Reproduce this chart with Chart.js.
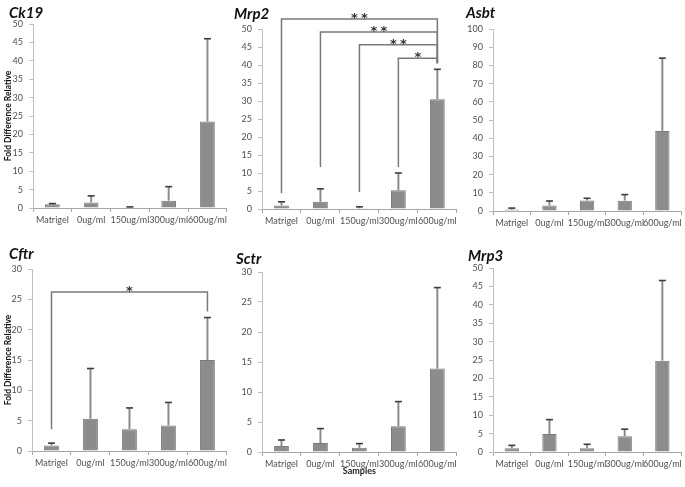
<!DOCTYPE html>
<html>
<head>
<meta charset="utf-8">
<script src="https://cdn.jsdelivr.net/npm/chart.js@4.4.1/dist/chart.umd.min.js"></script>
<style>
  body { margin: 0; background: #fff; }
  #wrap { position: relative; width: 685px; height: 487px; overflow: hidden; background: #fff; }
  #wrap canvas { position: absolute; }
  .gene { position: absolute; font: italic bold 15px Lato, sans-serif; color: #111; }
</style>
</head>
<body>
<div id="wrap">
  <canvas id="c1" width="230" height="240" style="left:0;top:0"></canvas>
  <canvas id="c2" width="230" height="240" style="left:230px;top:0"></canvas>
  <canvas id="c3" width="225" height="240" style="left:460px;top:0"></canvas>
  <canvas id="c4" width="230" height="247" style="left:0;top:240px"></canvas>
  <canvas id="c5" width="230" height="247" style="left:230px;top:240px"></canvas>
  <canvas id="c6" width="225" height="247" style="left:460px;top:240px"></canvas>
  <span class="gene" style="left:9px;top:3px">Ck19</span>
  <span class="gene" style="left:234px;top:4px">Mrp2</span>
  <span class="gene" style="left:466px;top:3px">Asbt</span>
  <span class="gene" style="left:9px;top:244px">Cftr</span>
  <span class="gene" style="left:236px;top:249px">Sctr</span>
  <span class="gene" style="left:468px;top:246px">Mrp3</span>
</div>
<script>
// 샘플(농도) 구분
const samples = ['Matrigel', '0ug/ml', '150ug/ml', '300ug/ml', '600ug/ml'];

// 유전자별 평균값과 표준편차
const ck19Mean = [1.0, 1.5, 0.2, 2.0, 23.5];
const ck19Sd   = [0.2, 1.8, 0.1, 3.8, 22.5];
const mrp2Mean = [1.0, 2.0, 0.2, 5.2, 30.5];
const mrp2Sd   = [1.0, 3.6, 0.4, 4.8, 8.3];
const asbtMean = [0.8, 3.0, 5.8, 5.7, 44.0];
const asbtSd   = [0.8, 2.5, 1.2, 3.3, 40.0];
const cftrMean = [0.9, 5.3, 3.6, 4.2, 15.0];
const cftrSd   = [0.4, 8.3, 3.5, 3.8, 7.0];
const sctrMean = [1.0, 1.5, 0.7, 4.3, 13.9];
const sctrSd   = [1.0, 2.4, 0.7, 4.1, 13.5];
const mrp3Mean = [1.0, 4.9, 1.0, 4.3, 24.8];
const mrp3Sd   = [0.8, 3.9, 1.1, 1.9, 21.8];

// 유의성 표시 (from/to 인덱스, 가로선 높이, 양쪽 세로선 끝 값, 별 개수)
const mrp2Sig = [
    { from: 0, to: 4, level: 52.8, fromEnd: 4.4, toEnd: 40.5, stars: 2 },
    { from: 1, to: 4, level: 49.2, fromEnd: 11.7, toEnd: 40.5, stars: 2 },
    { from: 2, to: 4, level: 45.6, fromEnd: 4.7, toEnd: 40.5, stars: 2 },
    { from: 3, to: 4, level: 41.9, fromEnd: 11.7, toEnd: 40.5, stars: 1 }
];
const cftrSig = [
    { from: 0, to: 4, level: 26.2, fromEnd: 3.6, toEnd: 23.0, stars: 1 }
];

// 에러바 그리기 (위쪽만)
const errBarPlugin = {
    id: 'errBars',
    afterDatasetsDraw(chart, args, opts) {
        const ctx = chart.ctx;
        const y = chart.scales.y;
        const meta = chart.getDatasetMeta(0);
        const data = chart.data.datasets[0].data;
        ctx.save();
        meta.data.forEach((bar, i) => {
            const top = y.getPixelForValue(data[i] + opts.sd[i]);
            ctx.strokeStyle = '#8c8c8c';
            ctx.lineWidth = 2;
            ctx.beginPath();
            ctx.moveTo(bar.x, bar.y);
            ctx.lineTo(bar.x, top);
            ctx.stroke();
            ctx.strokeStyle = '#3c3c3c';
            ctx.lineWidth = 1.6;
            ctx.beginPath();
            ctx.moveTo(bar.x - 3.5, top);
            ctx.lineTo(bar.x + 3.5, top);
            ctx.stroke();
        });
        ctx.restore();
    }
};

// 유의성 브라켓 그리기
const sigPlugin = {
    id: 'sigBrackets',
    afterDraw(chart, args, opts) {
        if (!opts.items) return;
        const ctx = chart.ctx;
        const x = chart.scales.x, y = chart.scales.y;
        ctx.save();
        opts.items.forEach(s => {
            const x1 = x.getPixelForValue(s.from);
            const x2 = x.getPixelForValue(s.to);
            const yl = y.getPixelForValue(s.level);
            ctx.strokeStyle = '#7a7a7a';
            ctx.lineWidth = 1.5;
            ctx.beginPath();
            ctx.moveTo(x1, y.getPixelForValue(s.fromEnd));
            ctx.lineTo(x1, yl);
            ctx.lineTo(x2, yl);
            ctx.lineTo(x2, y.getPixelForValue(s.toEnd));
            ctx.stroke();
            // 별표
            ctx.fillStyle = '#333';
            ctx.font = 'bold 13px "DejaVu Sans"';
            ctx.textAlign = 'center';
            ctx.textBaseline = 'alphabetic';
            const cx = (x1 + x2) / 2;
            for (let k = 0; k < s.stars; k++) {
                const off = (k - (s.stars - 1) / 2) * 10;
                ctx.fillText('*', cx + off, yl + 3);
            }
        });
        ctx.restore();
    }
};

function makeChart(id, mean, sd, o) {
    return new Chart(document.getElementById(id), {
        type: 'bar',
        data: {
            labels: samples,
            datasets: [{
                data: mean,
                backgroundColor: '#8c8c8c',
                borderColor: '#7a7a7a',
                borderWidth: 1,
                barPercentage: 0.38,
                categoryPercentage: 1
            }]
        },
        options: {
            responsive: false,
            animation: false,
            devicePixelRatio: 1,
            layout: { padding: { top: o.padTop, right: o.padRight, left: 0, bottom: 0 } },
            plugins: {
                legend: { display: false },
                tooltip: { enabled: false },
                errBars: { sd: sd },
                sigBrackets: { items: o.sig || null }
            },
            scales: {
                x: {
                    grid: { drawOnChartArea: false, drawTicks: true, tickLength: 4, color: '#a6a6a6', offset: true },
                    border: { color: '#a6a6a6', width: 1 },
                    ticks: { font: { family: 'Lato', size: 9 }, color: '#505050', maxRotation: 0, autoSkip: false, padding: 3 },
                    title: o.xTitle ? { display: true, text: o.xTitle, font: { family: 'Lato', size: 9, weight: 'bold' }, color: '#222', padding: { top: 2, bottom: 11 } } : { display: false },
                    afterFit: s => { s.height = o.xH; }
                },
                y: {
                    min: 0,
                    max: o.max,
                    ticks: { stepSize: o.step, font: { family: 'Lato', size: 9 }, color: '#505050', padding: 6 },
                    grid: { drawOnChartArea: false, drawTicks: true, tickLength: 4, color: '#bfbfbf' },
                    border: { color: '#bfbfbf', width: 1 },
                    title: o.yTitle ? { display: true, text: o.yTitle, font: { family: 'Lato', size: 8.5, weight: 'bold' }, color: '#111', padding: { top: 3, bottom: 0 } } : { display: false },
                    afterFit: s => { s.width = o.yW; }
                }
            }
        },
        plugins: [errBarPlugin, sigPlugin]
    });
}

function drawAll() {
    makeChart('c1', ck19Mean, ck19Sd, { max: 50, step: 5, yW: 33, xH: 32, padTop: 24, padRight: 2, yTitle: 'Fold Difference Relative' });
    makeChart('c2', mrp2Mean, mrp2Sd, { max: 50, step: 5, yW: 32, xH: 31, padTop: 29, padRight: 3, sig: mrp2Sig });
    makeChart('c3', asbtMean, asbtSd, { max: 100, step: 10, yW: 33, xH: 29, padTop: 29, padRight: 3 });
    makeChart('c4', cftrMean, cftrSd, { max: 30, step: 5, yW: 32, xH: 36, padTop: 29, padRight: 2, yTitle: 'Fold Difference Relative', sig: cftrSig });
    makeChart('c5', sctrMean, sctrSd, { max: 30, step: 5, yW: 32, xH: 35, padTop: 32, padRight: 3, xTitle: 'Samples' });
    makeChart('c6', mrp3Mean, mrp3Sd, { max: 50, step: 5, yW: 33, xH: 35, padTop: 28, padRight: 3 });
}

Promise.all([
    document.fonts.load('9px Lato'),
    document.fonts.load('bold 9px Lato'),
    document.fonts.load('italic bold 15px Lato')
]).then(drawAll, drawAll);
</script>
</body>
</html>
